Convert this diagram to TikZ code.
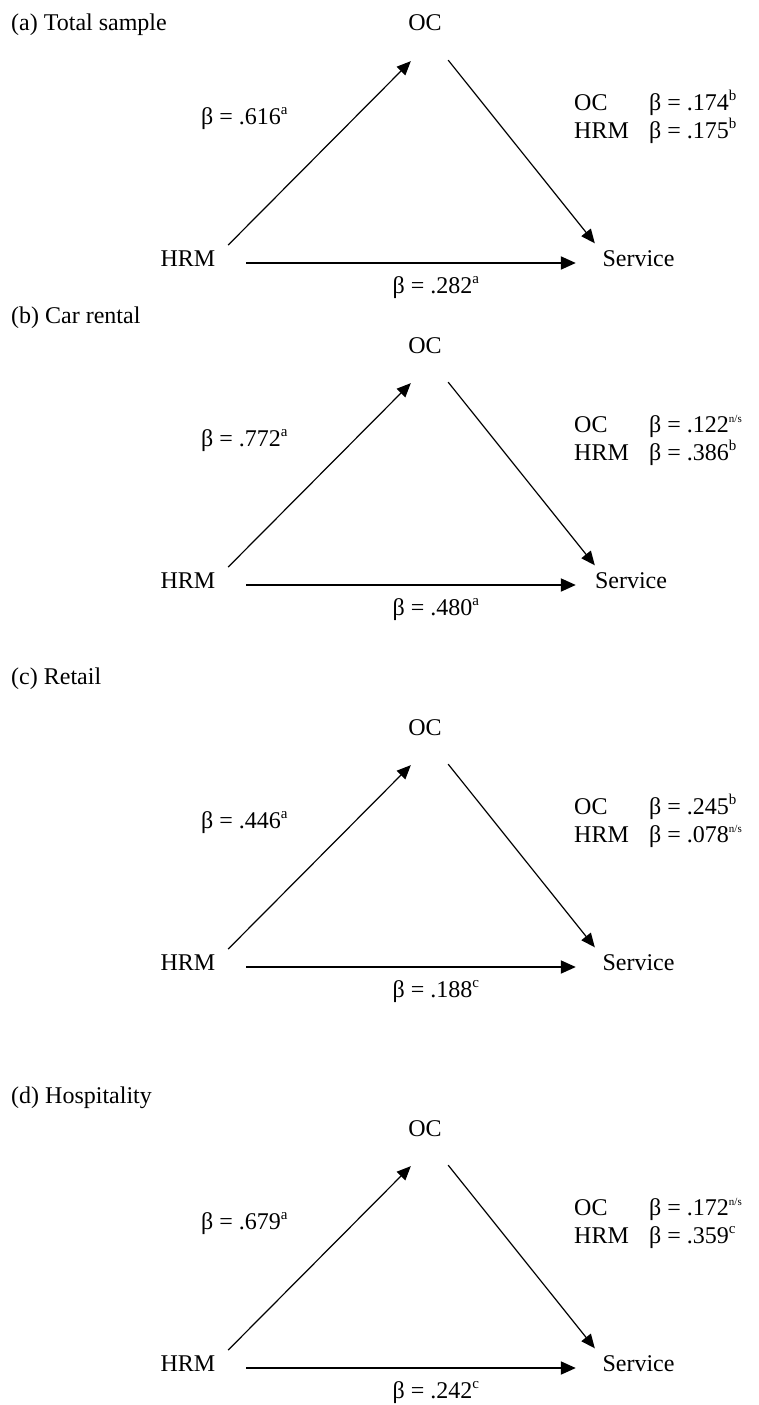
\documentclass[tikz,border=0pt]{standalone}
\usepackage{fontspec}
\setmainfont{Liberation Serif}
\usetikzlibrary{arrows.meta}
\newcommand{\supx}[1]{\textsuperscript{\fontsize{15}{15}\selectfont #1}}
\newcommand{\supns}{\textsuperscript{\fontsize{11}{11}\selectfont n/s}}
\tikzset{
  txt/.style={inner sep=0pt, font=\fontsize{24}{28}\selectfont, anchor=base},
  txtw/.style={txt, anchor=base west},
  diag/.style={line width=1.2pt, -{Triangle[length=14pt,width=12pt]}},
  horiz/.style={line width=1.9pt, -{Triangle[length=15pt,width=13pt]}},
}
\newcommand{\medpanel}[9]{%
\begin{scope}[shift={(0,#1)}]
  \node[txtw] (lab#9) at (11,#3) {#2};
  \node[txt] (oc#9) at (425,31) {OC};
  \node[txt] (hrm#9) at (188,266) {HRM};
  \node[txt] (svc#9) at (#8,266) {Service};
  \node[txtw] (bl#9) at (201,124) {#4};
  \node[txt] (bb#9) at (436,293) {#5};
  \node[txtw] (ocl#9) at (574,110) {OC};
  \node[txtw] (ocv#9) at (649,110) {#6};
  \node[txtw] (hrml#9) at (574,138) {HRM};
  \node[txtw] (hrmv#9) at (649,138) {#7};
  \draw[diag] ([shift={(12.6,-5)}]hrm#9.north east) -- ([shift={(2.7,29.7)}]oc#9.south west);
  \draw[diag] ([shift={(6.3,28.7)}]oc#9.south east) -- ([shift={({631-#8},-6.6)}]svc#9.north west);
  \draw[horiz] ([shift={(30.6,-3)}]hrm#9.base east) -- ([shift={({612-#8},-3)}]svc#9.base west);
\end{scope}}
\begin{document}
\begin{tikzpicture}[x=1pt,y=-1pt]
  \useasboundingbox[fill=white] (0,0) rectangle (759,1405);
  \medpanel{0}{(a) Total sample}{31}{β = .616\supx{a}}{β = .282\supx{a}}{β = .174\supx{b}}{β = .175\supx{b}}{638.5}{a}
  \medpanel{322}{(b) Car rental}{1}{β = .772\supx{a}}{β = .480\supx{a}}{β = .122\supns}{β = .386\supx{b}}{631}{b}
  \medpanel{704}{(c) Retail}{-20}{β = .446\supx{a}}{β = .188\supx{c}}{β = .245\supx{b}}{β = .078\supns}{638.5}{c}
  \medpanel{1105}{(d) Hospitality}{-2}{β = .679\supx{a}}{β = .242\supx{c}}{β = .172\supns}{β = .359\supx{c}}{638.5}{d}
\end{tikzpicture}
\end{document}
